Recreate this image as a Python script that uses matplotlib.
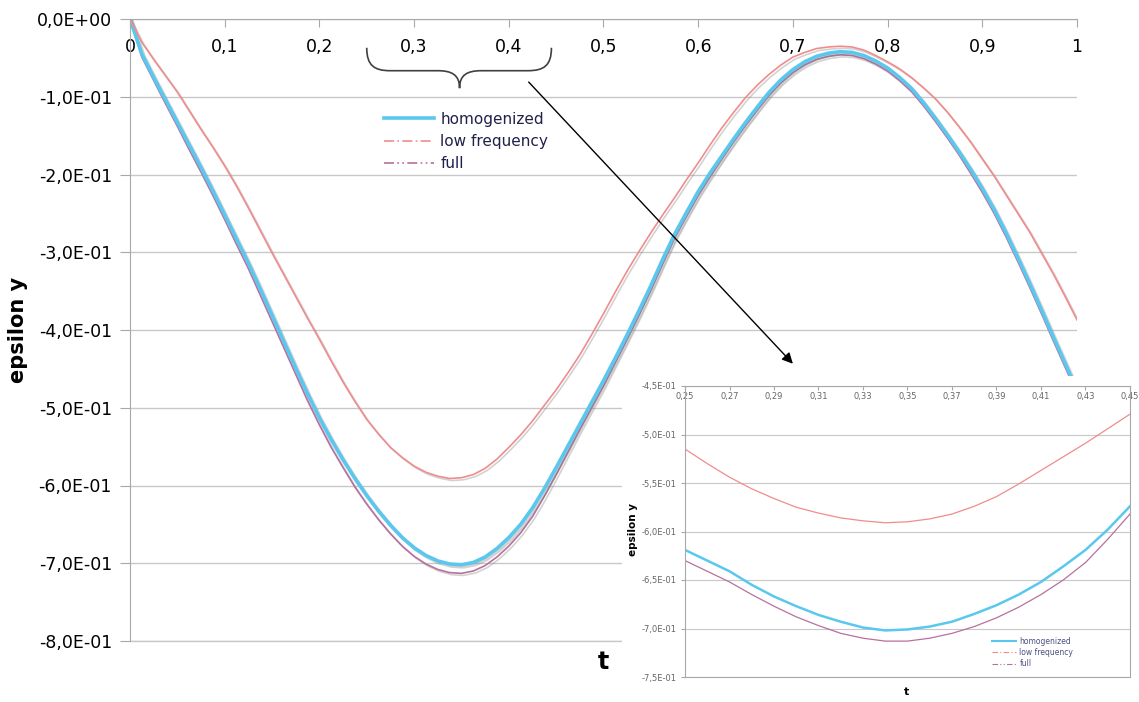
import numpy as np
import matplotlib.pyplot as plt
import matplotlib.patheffects as pe
from matplotlib.path import Path
from matplotlib.patches import PathPatch, Rectangle
from matplotlib.lines import Line2D

# main chart data, t every 0.0125
t = np.linspace(0, 1, 81)
homogenized = [0.0, -0.045, -0.075, -0.104, -0.133, -0.162, -0.191, -0.221, -0.252, -0.283,
               -0.314, -0.347, -0.381, -0.415, -0.449, -0.482, -0.513, -0.541, -0.567, -0.591,
               -0.613, -0.633, -0.651, -0.667, -0.680, -0.690, -0.697, -0.701, -0.702, -0.699,
               -0.692, -0.681, -0.667, -0.650, -0.629, -0.604, -0.577, -0.549, -0.521, -0.493,
               -0.465, -0.436, -0.406, -0.375, -0.343, -0.309, -0.277, -0.249, -0.222, -0.198,
               -0.176, -0.154, -0.133, -0.113, -0.094, -0.078, -0.065, -0.055, -0.048, -0.044,
               -0.042, -0.043, -0.047, -0.054, -0.063, -0.075, -0.089, -0.107, -0.127, -0.148,
               -0.170, -0.193, -0.218, -0.245, -0.275, -0.307, -0.340, -0.374, -0.409, -0.443,
               -0.477]
low_freq = [0.0, -0.030, -0.052, -0.073, -0.094, -0.118, -0.142, -0.165, -0.189, -0.215,
            -0.243, -0.272, -0.301, -0.329, -0.357, -0.385, -0.412, -0.440, -0.467, -0.492,
            -0.515, -0.534, -0.551, -0.564, -0.575, -0.583, -0.588, -0.591, -0.590, -0.586,
            -0.578, -0.566, -0.551, -0.535, -0.517, -0.497, -0.477, -0.455, -0.432, -0.406,
            -0.379, -0.351, -0.324, -0.299, -0.275, -0.252, -0.230, -0.207, -0.185, -0.162,
            -0.140, -0.120, -0.101, -0.085, -0.071, -0.059, -0.049, -0.043, -0.038, -0.036,
            -0.035, -0.036, -0.040, -0.047, -0.055, -0.064, -0.075, -0.088, -0.102, -0.119,
            -0.138, -0.158, -0.180, -0.202, -0.226, -0.250, -0.274, -0.301, -0.328, -0.357,
            -0.387]
full = [0.0, -0.049, -0.079, -0.109, -0.138, -0.168, -0.197, -0.227, -0.258, -0.290,
        -0.321, -0.355, -0.389, -0.423, -0.457, -0.491, -0.522, -0.551, -0.577, -0.602,
        -0.624, -0.644, -0.662, -0.678, -0.691, -0.701, -0.708, -0.712, -0.713, -0.710,
        -0.703, -0.692, -0.678, -0.661, -0.640, -0.614, -0.586, -0.557, -0.528, -0.500,
        -0.472, -0.442, -0.412, -0.381, -0.349, -0.315, -0.282, -0.254, -0.227, -0.203,
        -0.180, -0.158, -0.137, -0.117, -0.098, -0.082, -0.069, -0.059, -0.052, -0.048,
        -0.046, -0.047, -0.051, -0.058, -0.067, -0.079, -0.093, -0.111, -0.131, -0.152,
        -0.174, -0.198, -0.223, -0.250, -0.280, -0.312, -0.345, -0.379, -0.414, -0.448,
        -0.482]

# zoomed data, t from 0.25 to 0.45 every 0.01
t_zoom = np.linspace(0.25, 0.45, 21)
homogenized_zoom = [-0.619, -0.630, -0.641, -0.655, -0.667, -0.677, -0.686, -0.693, -0.699, -0.702,
                    -0.701, -0.698, -0.693, -0.685, -0.676, -0.665, -0.652, -0.636, -0.619, -0.598,
                    -0.574]
low_freq_zoom = [-0.515, -0.530, -0.544, -0.556, -0.566, -0.575, -0.581, -0.586, -0.589, -0.591,
                 -0.590, -0.587, -0.582, -0.574, -0.564, -0.551, -0.537, -0.523, -0.509, -0.494,
                 -0.479]
full_zoom = [-0.630, -0.641, -0.652, -0.665, -0.677, -0.688, -0.697, -0.705, -0.710, -0.713,
             -0.713, -0.710, -0.705, -0.698, -0.689, -0.678, -0.665, -0.650, -0.632, -0.608,
             -0.582]

labels = ['homogenized', 'low frequency', 'full']
xticks = [0, 0.1, 0.2, 0.3, 0.4, 0.5, 0.6, 0.7, 0.8, 0.9, 1]
yticks = [0, -0.1, -0.2, -0.3, -0.4, -0.5, -0.6, -0.7, -0.8]
xticks_zoom = [0.25, 0.27, 0.29, 0.31, 0.33, 0.35, 0.37, 0.39, 0.41, 0.43, 0.45]
yticks_zoom = [-0.45, -0.5, -0.55, -0.6, -0.65, -0.7, -0.75]

c_hom = '#5AC8EE'
c_low = '#F08C8C'
c_full = '#B8709E'
c_grid = '#C8C8C8'
c_axis = '#A8A8A8'

def sci(v):
    return f'{v:.1E}'.replace('.', ',')

def comma(v, n):
    return f'{v:.{n}f}'.replace('.', ',') if n else f'{v:g}'.replace('.', ',')

W, H = 1139, 702
fig = plt.figure(figsize=(W / 100, H / 100), dpi=100)

# ---- main chart
ax = fig.add_axes([130 / W, 1 - 641 / H, 947 / W, 622 / H])
ax.set_zorder(1)
shadow = [pe.SimpleLineShadow(offset=(1.5, -1.5), shadow_color='gray', alpha=0.35), pe.Normal()]
ax.plot(t, full, color=c_full, lw=1.2, path_effects=shadow)
ax.plot(t, homogenized, color=c_hom, lw=2.6, path_effects=shadow)
ax.plot(t, low_freq, color=c_low, lw=1.2, path_effects=shadow)
ax.set_xlim(0, 1)
ax.set_ylim(-0.8, 0)
ax.set_xticks(xticks)
ax.set_xticklabels([comma(v, 0) for v in xticks])
ax.set_yticks(yticks)
ax.set_yticklabels([sci(v) for v in yticks])
ax.grid(axis='y', color=c_grid, lw=1)
ax.axhline(-0.8, color=c_grid, lw=1, clip_on=False, zorder=0.5)
ax.set_axisbelow(True)
ax.spines['bottom'].set_position(('data', 0))
ax.spines['top'].set_visible(False)
ax.spines['right'].set_visible(False)
for s in ('bottom', 'left'):
    ax.spines[s].set_color(c_axis)
ax.tick_params(axis='x', direction='out', length=6, color=c_axis, pad=8, labelsize=12.5)
ax.tick_params(axis='y', direction='out', length=7, color=c_axis, pad=6, labelsize=12.5)

leg_handles = [Line2D([], [], color=c_hom, lw=2.6),
               Line2D([], [], color=c_low, lw=1.2, dashes=(6, 2, 1, 2)),
               Line2D([], [], color=c_full, lw=1.2, dashes=(6, 2, 1, 2, 1, 2))]
leg = ax.legend(leg_handles, labels, loc='upper left', bbox_to_anchor=(376 / W, 1 - 104 / H),
                bbox_transform=fig.transFigure, frameon=False, fontsize=11, borderpad=0,
                handlelength=3.3, handletextpad=0.4, labelspacing=0.48)
for txt in leg.get_texts():
    txt.set_color('#20204A')

# brace over 0.25..0.445
verts = [(0.250, -0.037), (0.250, -0.060), (0.258, -0.0665), (0.275, -0.0665),
         (0.325, -0.0665),
         (0.340, -0.0665), (0.348, -0.072), (0.348, -0.089),
         (0.348, -0.072), (0.356, -0.0665), (0.371, -0.0665),
         (0.420, -0.0665),
         (0.437, -0.0665), (0.445, -0.060), (0.445, -0.037)]
codes = [Path.MOVETO, Path.CURVE4, Path.CURVE4, Path.CURVE4, Path.LINETO,
         Path.CURVE4, Path.CURVE4, Path.CURVE4, Path.CURVE4, Path.CURVE4, Path.CURVE4,
         Path.LINETO, Path.CURVE4, Path.CURVE4, Path.CURVE4]
ax.add_patch(PathPatch(Path(verts, codes), fill=False, edgecolor='#404040', lw=1.2,
                       clip_on=False, zorder=5))
ax.annotate('', xy=(0.702, -0.446), xytext=(0.419, -0.0785),
            arrowprops=dict(arrowstyle='-|>', color='black', lw=1, mutation_scale=16),
            zorder=6)

fig.text(603 / W, 1 - 662 / H, 't', ha='center', va='center', fontsize=17, fontweight='bold')
fig.text(18 / W, 1 - 330 / H, 'epsilon y', ha='center', va='center', rotation=90,
         fontsize=15, fontweight='bold')

# white box behind the zoom
fig.add_artist(Rectangle((622 / W, 0), 1 - 622 / W, 1 - 376 / H, transform=fig.transFigure,
                         facecolor='white', edgecolor='none', zorder=2))

# ---- zoom chart
ax2 = fig.add_axes([685 / W, 1 - 677 / H, 445 / W, 291 / H])
ax2.set_zorder(3)
ax2.plot(t_zoom, full_zoom, color=c_full, lw=0.9)
ax2.plot(t_zoom, homogenized_zoom, color=c_hom, lw=1.8)
ax2.plot(t_zoom, low_freq_zoom, color=c_low, lw=0.9)
ax2.set_xlim(0.25, 0.45)
ax2.set_ylim(-0.75, -0.45)
ax2.set_xticks(xticks_zoom)
ax2.set_xticklabels([comma(v, 2) for v in xticks_zoom])
ax2.set_yticks(yticks_zoom)
ax2.set_yticklabels([sci(v) for v in yticks_zoom])
ax2.grid(axis='y', color=c_grid, lw=0.8)
ax2.set_axisbelow(True)
for s in ax2.spines.values():
    s.set_color(c_axis)
    s.set_linewidth(0.8)
ax2.xaxis.set_ticks_position('top')
ax2.tick_params(axis='x', direction='in', length=3, color=c_axis, pad=-11,
                labelsize=6, labelcolor='#666666')
ax2.tick_params(axis='y', direction='out', length=3, color=c_axis, pad=3,
                labelsize=6, labelcolor='#666666')

leg2_handles = [Line2D([], [], color=c_hom, lw=1.5),
                Line2D([], [], color=c_low, lw=0.8, dashes=(5, 2, 1, 2)),
                Line2D([], [], color=c_full, lw=0.8, dashes=(5, 2, 1, 2, 1, 2))]
leg2 = ax2.legend(leg2_handles, labels, loc='upper left', bbox_to_anchor=(988 / W, 1 - 633 / H),
                  bbox_transform=fig.transFigure, frameon=False, fontsize=5.5, borderpad=0,
                  handlelength=3.2, handletextpad=0.4, labelspacing=0.3)
for txt in leg2.get_texts():
    txt.set_color('#4A5080')

fig.text(907 / W, 1 - 692 / H, 't', ha='center', va='center', fontsize=8, fontweight='bold',
         zorder=4)
fig.text(633 / W, 1 - 530 / H, 'epsilon y', ha='center', va='center', rotation=90,
         fontsize=7.5, fontweight='bold', zorder=4)

fig.savefig('out.png', dpi=100)
